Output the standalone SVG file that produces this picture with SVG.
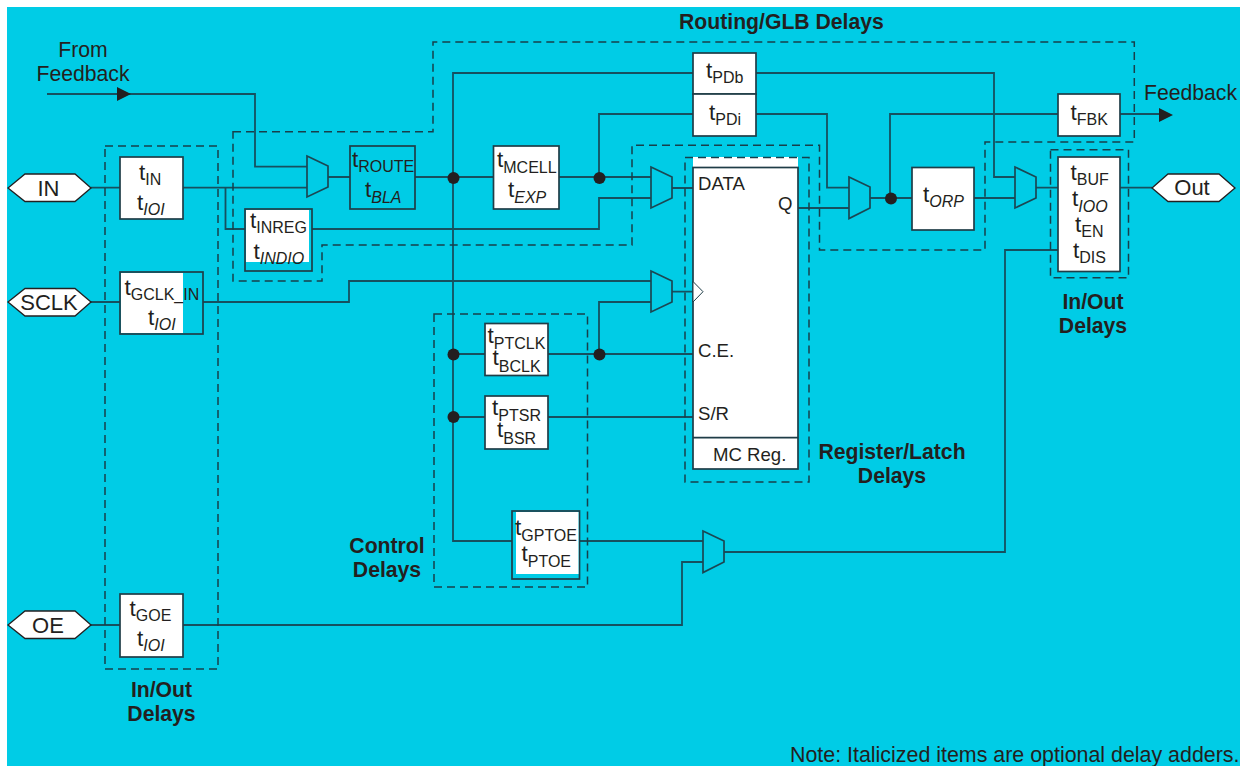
<svg xmlns="http://www.w3.org/2000/svg" width="1242" height="766" viewBox="0 0 1242 766">
<style>
text{font-family:"Liberation Sans",Arial,sans-serif;fill:#231f20;font-size:21.2px}
.b{font-weight:bold;font-size:21.2px}
.m{text-anchor:middle}
.t{font-size:22.5px}
.p{font-size:18.6px}
.s{font-size:16px}
.i{font-size:16px;font-style:italic}
.box{fill:#fff;stroke:#1f3d47;stroke-width:1.7}
.cy{fill:#00cce6;stroke:#1f3d47;stroke-width:1.7}
.mux{fill:#00cce6;stroke:#1b4753;stroke-width:1.7}
.hex{fill:#fff;stroke:#231f20;stroke-width:1.3}
.w{fill:none;stroke:#16505f;stroke-width:1.8}
.d{fill:none;stroke:#173f4b;stroke-width:1.5;stroke-dasharray:8 5}
.dot{fill:#231f20}
</style>
<defs>
<polygon id="ah" points="0,-7 14,0 0,7" fill="#231f20"/>
</defs>
<rect x="0" y="0" width="1242" height="766" fill="#fff"/>
<rect x="7" y="7" width="1233" height="759" fill="#00cce6"/>

<g id="connectors">
<path class="w" d="M47 94H255V166.700H307"/>
<path class="w" d="M91 187.700H120M183 187.700H307"/>
<path class="w" d="M225.500 187.700V229H245"/>
<path class="w" d="M91 302H120M203 302H349V281H651"/>
<path class="w" d="M91 625H120M183 625H682V562H703"/>
<path class="w" d="M328 177H350M415 177H493.500"/>
<path class="w" d="M693 73H453V541H512"/>
<path class="w" d="M559 177H651M599 177V114H693"/>
<path class="w" d="M312 229H599V198H651"/>
<path class="w" d="M672 188H693M672 291.700H693"/>
<path class="w" d="M453 354H485M548 354H693M599 354V302H651"/>
<path class="w" d="M453 417H485M548 417H693"/>
<path class="w" d="M579 541H703M724 552H1005V250H1058"/>
<path class="w" d="M756 73H994V177H1015"/>
<path class="w" d="M756 114H827V187.700H849"/>
<path class="w" d="M796 208H849"/>
<path class="w" d="M870 198H912M890 198V114H1058M1120 114H1160"/>
<path class="w" d="M974 198H1015M1036 187.700H1058M1120 187.700H1152"/>
<use href="#ah" x="117" y="94"/>
<use href="#ah" x="1159" y="115"/>
<circle class="dot" cx="453.500" cy="178" r="6"/>
<circle class="dot" cx="599.500" cy="178" r="6"/>
<circle class="dot" cx="453.500" cy="354.500" r="6"/>
<circle class="dot" cx="599.500" cy="354.500" r="6"/>
<circle class="dot" cx="453.500" cy="417" r="6"/>
<circle class="dot" cx="891" cy="198.500" r="6"/>
</g>

<g id="mux1"><polygon class="mux" points="307,156 328,166 328,187 307,197"/></g>
<g id="mux2"><polygon class="mux" points="651,167 672,177 672,198 651,208"/></g>
<g id="mux3"><polygon class="mux" points="651,271 672,281 672,302 651,312"/></g>
<g id="mux4"><polygon class="mux" points="703,531 724,541 724,562 703,572.500"/></g>
<g id="mux5"><polygon class="mux" points="849,177 870,187 870,208 849,218.500"/></g>
<g id="mux6"><polygon class="mux" points="1015,167 1036,177 1036,198 1015,208"/></g>

<g id="port-in"><polygon class="hex" points="8,188 25,174 75,174 91,188 75,201.500 25,201.500"/><text class="m" x="48.500" y="196" style="font-size:22px">IN</text></g>
<g id="port-sclk"><polygon class="hex" points="8,302 25,288.500 75,288.500 91,302 75,316 25,316"/><text class="m" x="49" y="310" style="font-size:22px">SCLK</text></g>
<g id="port-oe"><polygon class="hex" points="8,625 25,611 75,611 91,625 75,638.500 25,638.500"/><text class="m" x="48" y="633" style="font-size:22px">OE</text></g>
<g id="port-out"><polygon class="hex" points="1152,188 1168,174 1219,174 1235,188 1219,201.500 1168,201.500"/><text class="m" x="1192" y="195" style="font-size:22px">Out</text></g>

<g id="n-tin"><rect class="box" x="120" y="157" width="63" height="62"/>
<text class="t" x="139" y="180">t<tspan class="s" dy="5">IN</tspan></text>
<text class="t" x="137" y="210">t<tspan class="i" dy="5">IOI</tspan></text></g>

<g id="n-tgclk"><rect class="cy" x="120" y="272" width="83" height="62"/><rect x="121" y="273" width="62" height="60" fill="#fff"/>
<text class="t" x="124.500" y="295">t<tspan class="s" dy="5">GCLK_IN</tspan></text>
<text class="t" x="148" y="325">t<tspan class="i" dy="5">IOI</tspan></text></g>

<g id="n-tgoe"><rect class="box" x="120" y="594" width="63" height="63"/>
<text class="t" x="129.500" y="616">t<tspan class="s" dy="5">GOE</tspan></text>
<text class="t" x="137" y="646">t<tspan class="i" dy="5">IOI</tspan></text></g>

<g id="n-troute"><rect class="cy" x="350" y="146" width="65" height="63"/>
<text class="t" x="352" y="167">t<tspan class="s" dy="5">ROUTE</tspan></text>
<text class="t" x="365" y="197">t<tspan class="i" dy="6">BLA</tspan></text></g>

<g id="n-tinreg"><rect class="cy" x="245" y="209" width="67" height="62"/><rect x="246" y="210" width="63" height="52" fill="#fff"/>
<text class="t" x="250" y="228">t<tspan class="s" dy="5">INREG</tspan></text>
<text class="t" x="253.500" y="259">t<tspan class="i" dy="5">INDIO</tspan></text></g>

<g id="n-tmcell"><rect class="box" x="493.500" y="146" width="65.500" height="63"/>
<text class="t" x="497" y="167">t<tspan class="s" dy="6">MCELL</tspan></text>
<text class="t" x="508" y="197">t<tspan class="i" dy="6">EXP</tspan></text></g>

<g id="n-tpdb"><rect class="box" x="693" y="53" width="63" height="41"/>
<text class="t" x="706" y="78">t<tspan class="s" dy="5">PDb</tspan></text></g>
<g id="n-tpdi"><rect class="box" x="693" y="94" width="63" height="42"/>
<text class="t" x="709" y="120">t<tspan class="s" dy="5">PDi</tspan></text></g>

<g id="n-register"><rect x="693" y="157" width="105" height="11" fill="#fff"/><rect class="box" x="693" y="167.500" width="105" height="301.500"/>
<path d="M693 281.500L703 291.700L693 302Z" fill="#fff" stroke="#1f3d47" stroke-width="1"/>
<path d="M693 437.700H798" class="box"/>
<text class="p" x="698" y="190">DATA</text>
<text class="p" x="778" y="210">Q</text>
<text class="p" x="698" y="357">C.E.</text>
<text class="p" x="698" y="420">S/R</text>
<text class="p" x="713" y="461">MC Reg.</text></g>

<g id="n-tptclk"><rect class="box" x="485" y="323.500" width="63" height="52"/>
<text class="t" x="487.500" y="343">t<tspan class="s" dy="6">PTCLK</tspan></text>
<text class="t" x="492.500" y="365">t<tspan class="s" dy="7">BCLK</tspan></text></g>

<g id="n-tptsr"><rect class="box" x="485" y="396" width="63" height="53"/>
<text class="t" x="492" y="415">t<tspan class="s" dy="6">PTSR</tspan></text>
<text class="t" x="497" y="437">t<tspan class="s" dy="7">BSR</tspan></text></g>

<g id="n-tgptoe"><rect class="cy" x="512" y="511" width="67.500" height="68"/><rect x="516" y="512" width="62.500" height="62" fill="#fff"/>
<text class="t" x="515" y="535">t<tspan class="s" dy="6">GPTOE</tspan></text>
<text class="t" x="521.500" y="561">t<tspan class="s" dy="6">PTOE</tspan></text></g>

<g id="n-torp"><rect class="box" x="912" y="167.500" width="62" height="62.500"/>
<text class="t" x="923" y="202">t<tspan class="i" dy="5">ORP</tspan></text></g>

<g id="n-tfbk"><rect class="box" x="1058" y="94" width="62" height="42"/>
<text class="t" x="1070.500" y="120">t<tspan class="s" dy="5">FBK</tspan></text></g>

<g id="n-tbuf"><rect class="box" x="1058" y="157" width="62" height="114.500"/>
<text class="t" x="1070.500" y="180">t<tspan class="s" dy="5">BUF</tspan></text>
<text class="t" x="1072" y="206">t<tspan class="i" dy="6">IOO</tspan></text>
<text class="t" x="1075" y="232">t<tspan class="s" dy="5">EN</tspan></text>
<text class="t" x="1073" y="258">t<tspan class="s" dy="5">DIS</tspan></text></g>

<g id="boundaries">
<path class="d" d="M233 131.700H433V42H1134.300V142H985V250H819.500V145.300H632V245H322V281H233Z"/>
<rect class="d" x="105" y="146" width="113" height="523"/>
<rect class="d" x="685" y="157.500" width="124" height="324.500"/>
<rect class="d" x="434" y="314" width="153.500" height="273"/>
<rect class="d" x="1050.500" y="149.700" width="78" height="128"/>
</g>

<g id="labels">
<text class="m" x="83" y="57">From</text>
<text class="m" x="83" y="81">Feedback</text>
<text x="1144" y="100">Feedback</text>
<text class="b" x="679" y="29">Routing/GLB Delays</text>
<text class="b m" x="161.500" y="697">In/Out</text>
<text class="b m" x="161.500" y="721">Delays</text>
<text class="b m" x="387" y="553">Control</text>
<text class="b m" x="387" y="577">Delays</text>
<text class="b m" x="1093" y="309">In/Out</text>
<text class="b m" x="1093" y="333">Delays</text>
<text class="b m" x="892" y="459">Register/Latch</text>
<text class="b m" x="892" y="483">Delays</text>
<text x="790" y="762" style="font-size:21.400px">Note: Italicized items are optional delay adders.</text>
</g>
</svg>
